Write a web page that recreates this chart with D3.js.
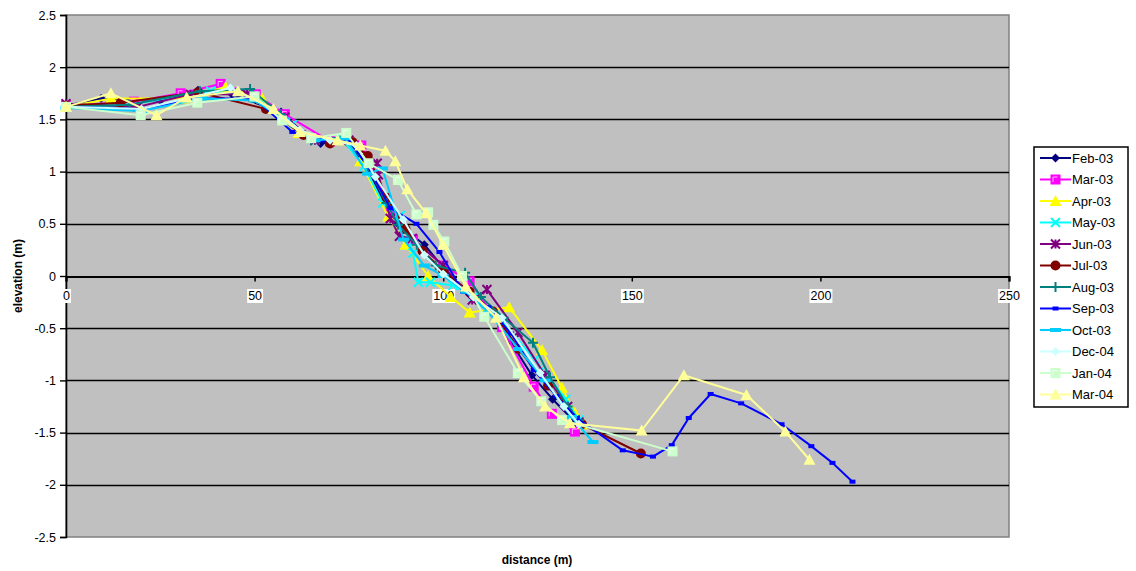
<!DOCTYPE html>
<html><head><meta charset="utf-8">
<script src="https://cdn.jsdelivr.net/npm/d3@7"></script>
<style>body{margin:0;background:#fff}svg{display:block}text{font-family:"Liberation Sans",Arial,sans-serif}</style>
</head><body><svg id="c" width="1136" height="571"></svg>
<script>
const seriesNames = ["Feb-03","Mar-03","Apr-03","May-03","Jun-03","Jul-03","Aug-03","Sep-03","Oct-03","Dec-04","Jan-04","Mar-04"];
const seriesColors = ["#000080","#FF00FF","#FFFF00","#00FFFF","#800080","#800000","#008080","#0000FF","#00CCFF","#CCFFFF","#CCFFCC","#FFFF99"];
const seriesMarkers = ["diamond","square","triangle","x","star","circle","plus","dash","bar","diamond","square","triangle"];
const xTicks = [0,50,100,150,200,250];
const yTicks = [2.5,2,1.5,1,0.5,0,-0.5,-1,-1.5,-2,-2.5];

const feb03 = [[0,1.63],[9.3,1.70],[25,1.68],[35,1.78],[44,1.74],[57,1.57],[62,1.40],[67.5,1.27],[73,1.30],[79,1.10],[84,0.73],[88,0.50],[95,0.30],[100.5,0.06],[107,-0.18],[112,-0.32],[117.7,-0.62],[123.5,-0.95],[129,-1.18],[135,-1.40]];
const mar03 = [[0,1.63],[18,1.67],[30.4,1.75],[41,1.84],[50.3,1.74],[58,1.55],[70,1.29],[78.3,1.25],[82,1.0],[86,0.6],[92,0.35],[100,0.1],[107,-0.05],[115.6,-0.49],[124,-1.06],[128.8,-1.32],[134.9,-1.49]];
const apr03 = [[0,1.62],[12,1.70],[31,1.70],[42.3,1.81],[52,1.70],[58,1.50],[61.6,1.37],[73.5,1.30],[78,1.10],[85.4,0.57],[90,0.30],[96,0.0],[102,-0.20],[107,-0.35],[117.5,-0.30],[126.2,-0.71],[131.5,-1.07],[134.9,-1.31],[137,-1.42]];
const may03 = [[0,1.62],[15,1.63],[38.4,1.77],[50,1.72],[60,1.45],[66,1.30],[73,1.32],[79,1.05],[84,0.70],[88.6,0.58],[92,0.22],[93.4,-0.06],[96.6,-0.06],[102.6,-0.09],[108,-0.20],[116,-0.45],[124.3,-0.80],[132.5,-1.18],[136,-1.38]];
const jun03 = [[0,1.65],[19,1.62],[33,1.74],[48,1.74],[58,1.52],[66,1.30],[75,1.30],[82.5,1.08],[82.8,0.97],[86,0.55],[88.4,0.38],[91.8,0.36],[100,0.10],[107.7,-0.23],[111.6,-0.13],[119.8,-0.54],[127,-0.95],[133,-1.25],[136,-1.40]];
const jul03 = [[0,1.63],[14.5,1.66],[35,1.76],[53,1.60],[63,1.35],[70,1.27],[76,1.28],[80,1.15],[85,0.75],[90,0.45],[94.5,0.24],[100,0.05],[107,-0.15],[113.2,-0.34],[120,-0.70],[127.8,-1.05],[136.8,-1.42],[152.4,-1.70]];
const aug03 = [[0,1.62],[16.8,1.64],[35.5,1.77],[48.8,1.79],[57,1.55],[65,1.30],[74,1.33],[80,1.05],[85,0.70],[88,0.49],[93,0.30],[98,0.10],[105.8,0.03],[110,-0.20],[116,-0.40],[123.8,-0.64],[128.3,-0.97],[133,-1.25],[136,-1.38]];
const sep03 = [[0,1.62],[20,1.60],[35,1.70],[50,1.70],[60,1.38],[68,1.30],[75,1.30],[80,1.05],[86,0.65],[92.9,0.50],[99,0.23],[105.3,-0.15],[112,-0.30],[118,-0.55],[124,-0.90],[130,-1.15],[135.4,-1.36],[147.6,-1.67],[155.6,-1.73],[160.6,-1.62],[165.1,-1.36],[170.9,-1.13],[179,-1.22],[189.7,-1.42],[197.6,-1.63],[203.2,-1.79],[208.5,-1.97]];
const oct03 = [[0,1.61],[20,1.58],[36,1.70],[50,1.68],[58,1.50],[66,1.30],[74,1.32],[80,0.98],[83.9,1.03],[89.5,0.35],[95,0.10],[100,0.0],[106,-0.15],[112,-0.35],[120,-0.70],[127,-1.00],[134,-1.35],[139.7,-1.59]];
const dec04 = [[0,1.62],[20,1.60],[43.6,1.80],[55,1.60],[62,1.40],[70,1.30],[77,1.25],[82,0.95],[89.4,0.54],[95,0.20],[100,0.02],[108,-0.20],[115.6,-0.40],[125.7,-0.93],[132,-1.25],[136,-1.42]];
const jan04 = [[0,1.62],[19.8,1.54],[34.8,1.66],[50,1.72],[57.3,1.49],[65,1.32],[74.3,1.37],[80.2,1.08],[88,0.92],[92.9,0.59],[96,0.61],[97.4,0.49],[100.3,0.33],[105,0.0],[110.9,-0.39],[119.8,-0.93],[126,-1.20],[131.5,-1.38],[160.8,-1.68]];
const mar04 = [[0,1.62],[11.9,1.75],[24,1.54],[32,1.71],[45.6,1.77],[55,1.60],[62,1.38],[72,1.30],[78,1.25],[84.7,1.20],[87.3,1.10],[90.5,0.83],[95.5,0.60],[100,0.30],[106,-0.10],[114,-0.40],[121.4,-0.97],[127,-1.25],[133.6,-1.41],[152.6,-1.48],[163.8,-0.95],[180.4,-1.14],[190.7,-1.49],[197.1,-1.76]];
const seriesData = [feb03,mar03,apr03,may03,jun03,jul03,aug03,sep03,oct03,dec04,jan04,mar04];

const svg = d3.select("#c");
const L = 66, R = 1009, T = 15, B = 537;
const x = d3.scaleLinear().domain([0,250]).range([L,R]);
const y = d3.scaleLinear().domain([-2.5,2.5]).range([B,T]);

svg.append("rect").attr("x",L).attr("y",T).attr("width",R-L).attr("height",B-T).attr("fill","#C0C0C0").attr("stroke","#808080").attr("stroke-width",1.5);

// gridlines
svg.append("g").selectAll("line").data(yTicks.filter(v=>v!==2.5 && v!==-2.5 && v!==0)).join("line")
  .attr("x1",L).attr("x2",R).attr("y1",d=>Math.round(y(d))+0.5).attr("y2",d=>Math.round(y(d))+0.5)
  .attr("stroke","#000").attr("stroke-width",1.3);

// y axis
const yAxis = d3.axisLeft(y).tickValues(yTicks).tickSize(6).tickPadding(4).tickFormat(d=>d===0?"0":String(d));
const gy = svg.append("g").attr("transform",`translate(${L},0)`).call(yAxis);
gy.select(".domain").attr("stroke","#000").attr("stroke-width",1.6);
gy.selectAll(".tick line").attr("stroke","#000").attr("stroke-width",1.4);
gy.selectAll("text").attr("font-size",12.5).attr("fill","#000").attr("font-family","Liberation Sans, Arial, sans-serif");

function marker(g, type, c, s){
  const h = s/2;
  if(type==="diamond") g.append("path").attr("d",`M0,${-h}L${h},0L0,${h}L${-h},0Z`).attr("fill",c);
  else if(type==="square"){ g.append("rect").attr("x",-h).attr("y",-h).attr("width",s).attr("height",s).attr("fill",c);
    g.append("path").attr("d",`M${-h+2.5},${h-2.5}V${-h+2.5}H${h-3}`).attr("fill","none").attr("stroke","#fff").attr("stroke-opacity",0.7).attr("stroke-width",1);}
  else if(type==="triangle") g.append("path").attr("d",`M0,${-h-1}L${h+1},${h}L${-h-1},${h}Z`).attr("fill",c);
  else if(type==="x") g.append("path").attr("d",`M${-h},${-h}L${h},${h}M${-h},${h}L${h},${-h}`).attr("stroke",c).attr("stroke-width",2);
  else if(type==="star") g.append("path").attr("d",`M${-h},${-h}L${h},${h}M${-h},${h}L${h},${-h}M0,${-h}V${h}`).attr("stroke",c).attr("stroke-width",2);
  else if(type==="circle") g.append("circle").attr("r",h).attr("fill",c);
  else if(type==="plus") g.append("path").attr("d",`M${-h},0H${h}M0,${-h}V${h}`).attr("stroke",c).attr("stroke-width",2);
  else if(type==="dash") g.append("rect").attr("x",-3).attr("y",-2).attr("width",6).attr("height",4).attr("fill",c);
  else if(type==="bar") g.append("rect").attr("x",-5.5).attr("y",-2).attr("width",11).attr("height",4).attr("fill",c);
}

// x axis at y=0
const xAxis = d3.axisBottom(x).tickValues(xTicks).tickSize(5).tickPadding(6).tickFormat(d3.format("d"));
const gx = svg.append("g").attr("transform",`translate(0,${Math.round(y(0))+0.5})`).call(xAxis);
gx.select(".domain").attr("stroke","#000").attr("stroke-width",2.2);
gx.selectAll(".tick line").attr("stroke","#000").attr("stroke-width",1.5);
gx.selectAll(".tick text").attr("font-size",12.5).attr("fill","#000").attr("dy","1em");
gx.selectAll(".tick").each(function(){
  const t = d3.select(this).select("text");
  const bb = t.node().getBBox();
  d3.select(this).insert("rect","text").attr("x",bb.x-1).attr("y",bb.y).attr("width",bb.width+2).attr("height",bb.height).attr("fill","#fff");
});

const line = d3.line().x(d=>x(d[0])).y(d=>y(d[1]));
const mSize = [9,10,10,9,9,10,10,6,11,9,10,10];
seriesData.forEach((data,i)=>{
  const g = svg.append("g");
  g.append("path").attr("d",line(data)).attr("fill","none").attr("stroke",seriesColors[i]).attr("stroke-width",2).attr("stroke-linejoin","round");
  data.forEach(d=>{
    marker(g.append("g").attr("transform",`translate(${x(d[0])},${y(d[1])})`), seriesMarkers[i], seriesColors[i], mSize[i]);
  });
});

// axis titles
svg.append("text").attr("x",537).attr("y",564).attr("text-anchor","middle").attr("font-size",12).attr("font-weight","bold").text("distance (m)");
svg.append("text").attr("transform","translate(22,276) rotate(-90)").attr("text-anchor","middle").attr("font-size",12).attr("font-weight","bold").text("elevation (m)");

// legend
const lg = svg.append("g");
lg.append("rect").attr("x",1034).attr("y",147).attr("width",94).attr("height",260).attr("fill","#fff").attr("stroke","#000").attr("stroke-width",1.5);
seriesNames.forEach((n,i)=>{
  const cy = 158 + i*21.5;
  lg.append("line").attr("x1",1040).attr("x2",1071).attr("y1",cy).attr("y2",cy).attr("stroke",seriesColors[i]).attr("stroke-width",2);
  marker(lg.append("g").attr("transform",`translate(1055.5,${cy})`), seriesMarkers[i], seriesColors[i], mSize[i]);
  lg.append("text").attr("x",1072).attr("y",cy+4.5).attr("font-size",13).attr("fill","#000").text(n);
});
</script></body></html>
